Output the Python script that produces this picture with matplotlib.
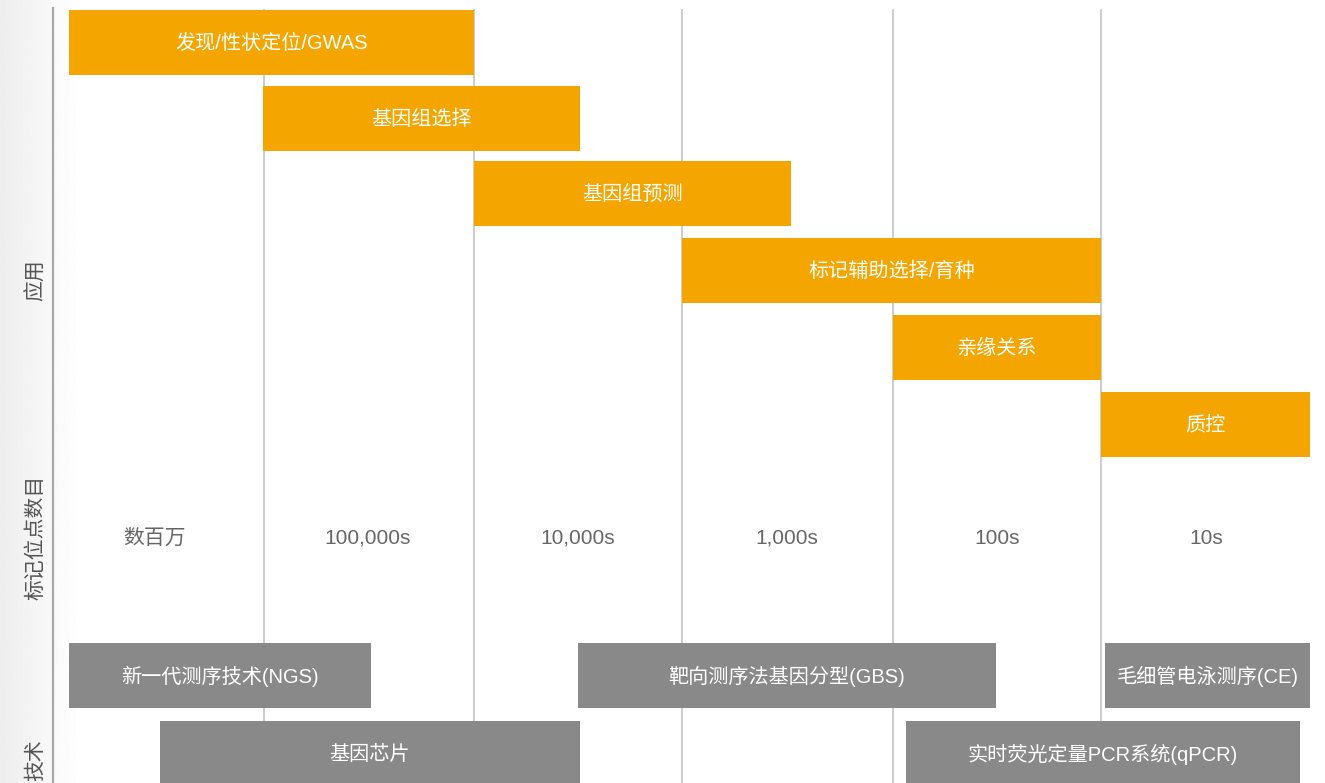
import numpy as np
import matplotlib.pyplot as plt

plt.rcParams['font.family'] = ['Liberation Sans', 'Noto Sans CJK SC', 'DejaVu Sans']

# application bars (orange)
app_labels = ['发现/性状定位/GWAS', '基因组选择', '基因组预测', '标记辅助选择/育种', '亲缘关系', '质控']
app_start = [69, 263, 474, 682, 893, 1101]
app_end = [474, 580, 791, 1101, 1101, 1310]
app_top = [10, 86, 161, 238, 315, 392]

# technology bars (gray)
tech_labels = ['新一代测序技术(NGS)', '靶向测序法基因分型(GBS)', '毛细管电泳测序(CE)',
               '基因芯片', '实时荧光定量PCR系统(qPCR)']
tech_start = [69, 578, 1105, 160, 906]
tech_end = [371, 996, 1310, 580, 1300]
tech_top = [643, 643, 643, 721, 721]

# marker count per column
count_labels = ['数百万', '100,000s', '10,000s', '1,000s', '100s', '10s']
count_x = [155, 368, 578, 787, 997, 1206]
col_edges = [264, 474, 682, 893, 1101]

side_labels = ['应用', '标记位点数目', '技术']
side_y = [280, 537, 760]

bar_h = 65
orange = '#f4a500'
gray = '#898989'

fig = plt.figure(figsize=(13.25, 7.83), dpi=100)
ax = fig.add_axes([0, 0, 1, 1])
ax.set_xlim(0, 1325)
ax.set_ylim(783, 0)
ax.axis('off')

# left gradient band
grad = np.linspace(0.93, 1.0, 100).reshape(1, -1)
ax.imshow(grad, cmap='gray', vmin=0, vmax=1, extent=[0, 80, 783, 0], aspect='auto', zorder=0)
ax.plot([53, 53], [8, 783], color='#a8a8a8', lw=1.6, zorder=1)

for x in col_edges:
    ax.plot([x, x], [10, 783], color='#c8c8c8', lw=1.3, zorder=1)

for lab, s, e, t in zip(app_labels, app_start, app_end, app_top):
    ax.barh(t + bar_h / 2, e - s, left=s, height=bar_h, color=orange, zorder=2)
    ax.text((s + e) / 2, t + bar_h / 2 + 1, lab, color='white', fontsize=14.5,
            ha='center', va='center', zorder=3)

for lab, s, e, t in zip(tech_labels, tech_start, tech_end, tech_top):
    ax.barh(t + bar_h / 2, e - s, left=s, height=bar_h, color=gray, zorder=2)
    ax.text((s + e) / 2, t + bar_h / 2 + 1, lab, color='white', fontsize=14.5,
            ha='center', va='center', zorder=3)

for lab, x in zip(count_labels, count_x):
    ax.text(x, 538, lab, color='#666666', fontsize=15, ha='center', va='center')

for lab, y in zip(side_labels, side_y):
    ax.text(36, y, lab, color='#555555', fontsize=15, rotation=90,
            ha='center', va='center')

fig.savefig('out.png', dpi=100)
